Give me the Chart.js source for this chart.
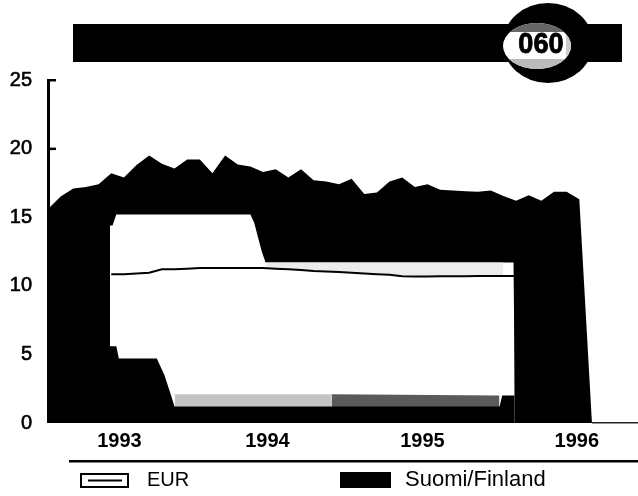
<!DOCTYPE html>
<html><head><meta charset="utf-8">
<style>
html,body{margin:0;padding:0;background:#fff;width:638px;height:496px;overflow:hidden}
#wrap{position:absolute;left:0;top:0;width:638px;height:496px}
canvas{display:block}
</style>
<script src="https://cdn.jsdelivr.net/npm/chart.js@4/dist/chart.umd.min.js"></script>
</head><body>
<div id="wrap"><canvas id="c" width="638" height="496"></canvas></div>
<script>
// Monthly position 0 = Jan 1993
const yearLabels = ["1993","1994","1995","1996"];
const yearPositions = [5.65,17.35,29.6,41.8];
const yTicks = [0,5,10,15,20,25];

const finland = [15.6,16.5,17.1,17.2,17.4,18.2,17.9,18.8,19.5,18.9,18.55,19.2,19.2,18.2,19.5,18.85,
  18.7,18.3,18.5,17.9,18.5,17.7,17.6,17.4,17.8,16.7,16.8,17.6,17.9,17.2,17.4,17.0,16.95,16.9,16.85,
  16.95,16.55,16.2,16.6,16.2,16.85,16.85,16.3,0];

const eurLine = [10.85,10.85,10.9,10.95,11.2,11.2,11.25,11.3,11.3,11.3,11.3,11.3,11.3,11.25,11.2,11.15,
  11.07,11.05,11.0,10.95,10.9,10.85,10.8,10.7,10.67,10.67,10.7,10.7,10.7,10.72,10.72,10.72,10.72];
const eurLineStart = 5;

// Envelope of the EUR band
const bandX =     [4.9, 5.1, 5.4, 16.0, 16.3, 16.9, 17.2, 36.8, 36.9];
const bandUpper = [14.4,14.4,15.2,15.2, 14.6, 12.5, 11.7, 11.7, 2.0];
const lowerX =    [4.9, 5.4, 5.6, 8.6, 9.2, 9.7, 10.0, 35.7, 35.9, 36.9];
const bandLower = [5.6, 5.6, 4.7, 4.7, 3.5, 2.1, 1.2, 1.2, 2.0, 2.0];

// Worn print zones along the band edges
const paleZoneX = [10.0,22.4];
const paleZoneY = [2.1,2.1];
const darkZoneX = [22.4,35.7];
const darkZoneY = [2.1,2.0];
const stripX = [17.2,36];
const stripY = [11.7,11.7];

const toPts = (xs,ys)=>xs.map((x,i)=>({x,y:ys[i]}));
const area = (label,data,color,order)=>({label,data,borderColor:color,borderWidth:0,pointRadius:0,tension:0,
  fill:{target:'origin',above:color},order});
const linePts = eurLine.map((y,i)=>({x:i+eurLineStart,y}));

new Chart(document.getElementById('c'),{
  type:'line',
  data:{datasets:[
    {label:'EUR',data:linePts,borderColor:'#000',borderWidth:2,pointRadius:0,tension:0,fill:false,order:0},
    area('Suomi/Finland',finland.map((y,i)=>({x:i,y})),'#000',9),
    area('EUR band top',toPts(bandX,bandUpper),'#fff',8),
    area('strip',toPts(stripX,stripY),'#ececec',7),
    area('under line',linePts.filter(p=>p.x>=17&&p.x<=36),'#fff',6),
    area('pale zone',toPts(paleZoneX,paleZoneY),'#c4c4c4',5),
    area('dark zone',toPts(darkZoneX,darkZoneY),'#5a5a5a',4),
    area('EUR band bottom',toPts(lowerX,bandLower),'#000',3)
  ]},
  options:{
    responsive:false,animation:false,
    layout:{padding:{top:80,left:0,right:0,bottom:0}},
    plugins:{legend:{display:false},tooltip:{enabled:false}},
    scales:{
      x:{type:'linear',min:0,max:46.64,
        grid:{display:false,drawTicks:false},border:{display:false},
        afterFit(ax){ax.height=73;},
        afterBuildTicks(ax){ax.ticks=yearPositions.map(v=>({value:v}));},
        ticks:{autoSkip:false,maxRotation:0,minRotation:0,padding:6,color:'#000',font:{family:'Liberation Sans',size:20,weight:'bold'},
          callback(v){return yearLabels[yearPositions.indexOf(v)];}}
      },
      y:{min:0,max:25,
        grid:{display:false,drawTicks:false},border:{display:false},
        afterFit(ax){ax.width=48;},
        afterBuildTicks(ax){ax.ticks=yTicks.map(v=>({value:v}));},
        ticks:{color:'#000',padding:16,textStrokeColor:'#000',textStrokeWidth:0.6,
          font:{family:'Liberation Sans',size:20},callback:v=>String(v)}
      }
    }
  },
  plugins:[{
    id:'decor',
    beforeDatasetsDraw(c){
      const x=c.ctx,{left,bottom,top}=c.chartArea;
      x.save();x.fillStyle='#000';
      x.fillRect(left-1,top-1,3,bottom-top+1);
      const ys=c.scales.y;
      yTicks.slice(1).forEach(v=>{const p=ys.getPixelForValue(v);x.fillRect(left,p-1,8,2.5);});
      x.restore();
    },
    afterDraw(c){
      const x=c.ctx;x.save();
      // header bar and seal
      x.fillStyle='#000';x.fillRect(73,24,549,38);
      x.beginPath();x.ellipse(548,43,45,40,0,0,Math.PI*2);x.fill();
      x.save();
      x.beginPath();x.ellipse(537,46,34,23,0,0,Math.PI*2);x.clip();
      x.fillStyle='#fff';x.fillRect(500,20,80,50);
      x.fillStyle='#666';x.fillRect(500,20,80,12);
      x.fillStyle='#bbb';x.fillRect(500,59,80,11);
      x.fillStyle='#ccc';x.fillRect(566,20,10,50);
      x.restore();
      x.fillStyle='#000';x.textAlign='center';x.textBaseline='middle';
      x.save();x.translate(541,45);x.scale(0.97,1.03);
      x.font='bold 28px "Liberation Sans"';
      x.strokeStyle='#000';x.lineWidth=0.8;
      x.fillText('060',0,0);x.strokeText('060',0,0);
      x.restore();
      // rules
      x.fillStyle='#222';x.fillRect(592,422,46,1.5);
      x.fillStyle='#000';x.fillRect(69,460,569,2.5);
      // legend
      x.lineWidth=2;x.strokeStyle='#000';x.strokeRect(81,474,47,13);
      x.fillRect(88,479.5,34,2);
      x.fillRect(340,472,51,16);
      x.textAlign='left';x.textBaseline='middle';
      x.fillStyle='#000';
      x.font='20px "Liberation Sans"';x.fillText('EUR',147,480);
      x.font='22px "Liberation Sans"';x.fillText('Suomi/Finland',405,480);
      x.restore();
    }
  }]
});
</script>
</body></html>
